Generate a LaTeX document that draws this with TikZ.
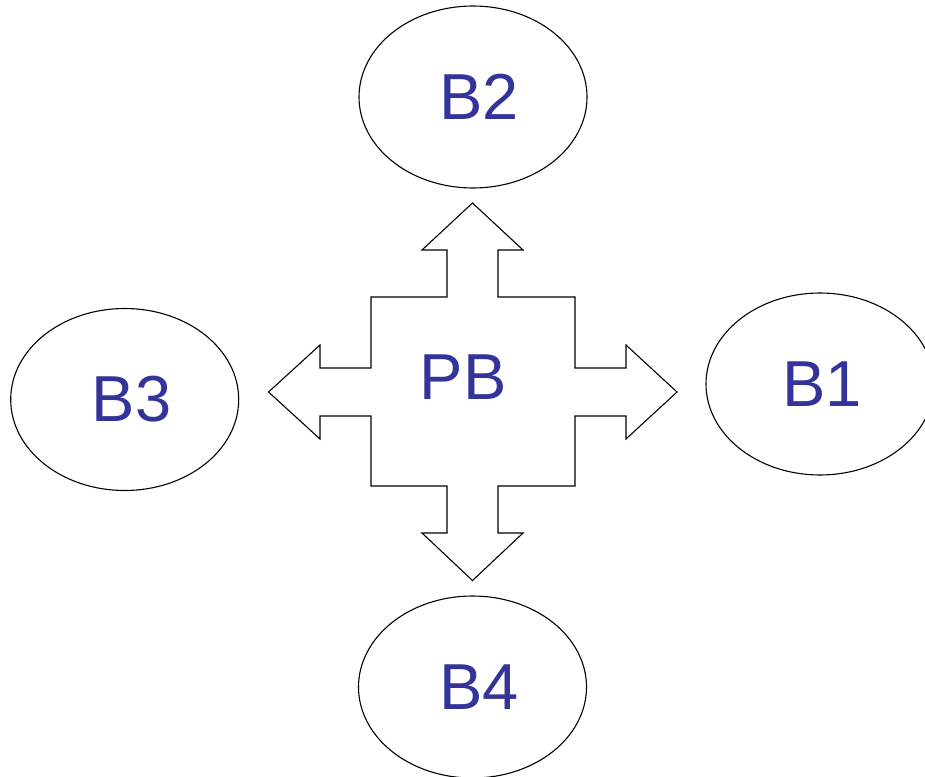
\documentclass[tikz,border=0pt]{standalone}
\usepackage{fontspec}
\setmainfont{Liberation Sans}
\usetikzlibrary{shapes.geometric}
\definecolor{labelblue}{RGB}{51,51,153}
\tikzset{
  bubble/.style={ellipse, draw=black, line width=1.1pt, minimum width=228pt, minimum height=182pt, inner sep=0pt},
  lbl/.style={anchor=base, inner sep=0pt, text=labelblue, font=\fontsize{65}{70}\selectfont},
  crossshape/.style={draw=black, line width=1.1pt, fill=white, line join=miter}
}
\begin{document}
\begin{tikzpicture}[x=1pt,y=-1pt]
\useasboundingbox (0,0) rectangle (925,776);
\clip (0,0) rectangle (925,776);
\fill[white] (0,0) rectangle (925,776);
\node[bubble] (b2) at (473,97) {};
\node[bubble] (b3) at (124.7,399.5) {};
\node[bubble] (b1) at (820,384) {};
\node[bubble] (b4) at (472.5,687) {};
\draw[crossshape] (472.5,203) -- (523,250) -- (498,250) -- (498,297) -- (575,297) -- (575,368) -- (626,368) -- (626,345) -- (677,392) -- (626,439) -- (626,416) -- (575,416) -- (575,486) -- (498,486) -- (498,533) -- (523,533) -- (472.5,580.5) -- (422,533) -- (447,533) -- (447,486) -- (371,486) -- (371,416) -- (320,416) -- (320,439) -- (268.5,392) -- (320,345) -- (320,368) -- (371,368) -- (371,297) -- (447,297) -- (447,250) -- (422,250) -- cycle;
\node[lbl] (tb2) at (479,119) {B2};
\node[lbl] (tb3) at (131.7,421) {B3};
\node[lbl] (tb1) at (822,406) {B1};
\node[lbl] (tb4) at (479,709) {B4};
\node[lbl] (tpb) at (463,399) {PB};
\end{tikzpicture}
\end{document}
